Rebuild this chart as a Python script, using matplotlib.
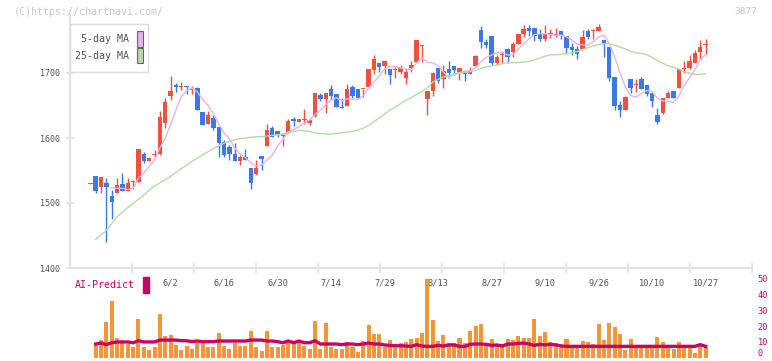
import numpy as np
import pandas as pd
import matplotlib
matplotlib.use("Agg")
import matplotlib.pyplot as plt
from matplotlib.patches import Rectangle

# candles (first one is the lone doji with no AI bar)
opens = [1529.5,
         1541, 1525, 1531, 1511, 1516, 1529, 1519, 1533, 1533, 1575,
         1565, 1574, 1576, 1623, 1665, 1682, 1679, 1680, 1674, 1677,
         1640, 1622, 1631, 1617, 1594, 1586, 1576, 1564, 1570, 1554,
         1545, 1572, 1588, 1615, 1611, 1603, 1608, 1629, 1625, 1628,
         1623, 1634, 1666, 1660, 1675, 1668, 1647, 1650, 1679, 1675,
         1675, 1679, 1705, 1716, 1711, 1706, 1705, 1701, 1693, 1707,
         1717, 1741, 1660, 1672, 1708, 1691, 1706, 1711, 1702, 1703,
         1699, 1711, 1766, 1748, 1757, 1716, 1727, 1737, 1733, 1745,
         1760, 1770, 1770, 1760, 1752, 1760.5, 1759, 1765, 1757, 1740,
         1737, 1737, 1765, 1765, 1765, 1751, 1740, 1694, 1651, 1643,
         1691, 1681, 1691, 1681, 1669, 1635, 1639, 1662, 1673, 1677,
         1706, 1708, 1716, 1733, 1743]
highs = [1531,
         1541, 1540, 1539, 1520, 1538, 1546, 1539, 1536, 1583, 1578,
         1571, 1582, 1641, 1661, 1695, 1685, 1686, 1680, 1680, 1679,
         1640, 1642, 1635, 1617, 1597, 1589, 1592, 1574, 1583, 1554,
         1566, 1572, 1621, 1618, 1611, 1608, 1629, 1632, 1629, 1644,
         1629, 1669, 1669, 1670, 1681, 1668, 1661, 1683, 1681, 1675,
         1676, 1706, 1728, 1716, 1718, 1706, 1710, 1712, 1706, 1718,
         1751, 1743, 1673, 1702, 1708, 1713, 1718, 1711, 1708, 1703,
         1710, 1728, 1773, 1752, 1757, 1728, 1732, 1738, 1748, 1760,
         1774, 1774, 1770, 1768, 1774, 1768, 1769, 1765, 1757, 1746,
         1742, 1766, 1767, 1767, 1775, 1751, 1740, 1694, 1657, 1665,
         1691, 1691, 1694, 1681, 1669, 1646, 1662, 1672, 1673, 1706,
         1718, 1727, 1735, 1751, 1752]
lows = [1529,
        1516, 1515, 1440, 1476, 1515, 1519, 1519, 1521, 1533, 1562,
        1564, 1569, 1574, 1615, 1658, 1671, 1674, 1667, 1667, 1643,
        1620, 1622, 1612, 1571, 1571, 1566, 1564, 1558, 1566, 1522,
        1543, 1551, 1588, 1602, 1602, 1587, 1608, 1618, 1624, 1621,
        1620, 1633, 1657, 1639, 1658, 1647, 1646, 1650, 1662, 1662,
        1663, 1679, 1698, 1701, 1699, 1683, 1692, 1699, 1683, 1701,
        1717, 1717, 1635, 1664, 1684, 1677, 1692, 1697, 1689, 1688,
        1699, 1711, 1739, 1738, 1713, 1713, 1715, 1716, 1725, 1745,
        1756, 1757, 1750, 1750, 1750, 1754, 1755, 1752, 1729, 1727,
        1721, 1737, 1752, 1752, 1765, 1724, 1688, 1643, 1633, 1643,
        1670, 1671, 1675, 1665, 1647, 1621, 1637, 1661, 1661, 1677,
        1700, 1706, 1716, 1722, 1730]
closes = [1530.5,
          1519, 1540, 1525, 1502, 1527, 1519, 1530, 1534, 1583, 1565,
          1569, 1576, 1632, 1655, 1672, 1678, 1680, 1679, 1675, 1643,
          1620, 1635, 1616, 1593, 1574, 1575, 1564, 1571, 1566, 1531,
          1554, 1568, 1612, 1602, 1604, 1604, 1626, 1626, 1629, 1629,
          1628, 1669, 1660, 1670, 1664, 1647, 1646, 1675, 1665, 1662,
          1676, 1706, 1721, 1709, 1718, 1697, 1706, 1708, 1702, 1712,
          1751, 1743, 1673, 1700, 1688, 1703, 1700, 1704, 1708, 1699,
          1705, 1726, 1747, 1743, 1716, 1725, 1730, 1724, 1745, 1760,
          1768, 1765, 1757, 1752, 1760, 1761, 1760, 1758, 1739, 1736,
          1729, 1755, 1755, 1766, 1771, 1744, 1693, 1650, 1643, 1663,
          1677, 1682, 1675, 1668, 1657, 1624, 1662, 1669, 1662, 1706,
          1707, 1718, 1731, 1740, 1744]

# 25-day MA as drawn (starts with the second candle)
ma25 = [np.nan,
        1444, 1451, 1458, 1468, 1479, 1486, 1493, 1499, 1506, 1512,
        1520, 1526, 1531, 1536, 1541, 1547, 1553, 1558, 1564, 1569,
        1574, 1579, 1584, 1588, 1592, 1595, 1597, 1599, 1600, 1601,
        1602, 1602, 1603, 1604, 1605, 1606, 1608, 1610, 1612, 1611,
        1610, 1608, 1607, 1606, 1606, 1607, 1608, 1609, 1610, 1612,
        1615, 1619, 1625, 1631, 1637, 1643, 1647, 1653, 1658, 1662,
        1667, 1672, 1677, 1686, 1690, 1694, 1696, 1698, 1700, 1701,
        1702, 1704, 1707, 1709, 1711, 1712, 1714, 1716, 1716, 1716,
        1717, 1718, 1720, 1723, 1726, 1728, 1728, 1729, 1730, 1731,
        1733, 1736, 1739, 1742, 1744, 1745, 1745, 1743, 1740, 1737,
        1733, 1731, 1730, 1728, 1724, 1719, 1715, 1711, 1709, 1706,
        1702, 1700, 1698, 1698, 1699]

# AI-Predict panel
volume = [np.nan,
          7.8, 11.2, 22.7, 36, 12.5, 10.4, 8.7, 6.8, 24.6, 6.8,
          4.9, 6.8, 27.8, 13.8, 14.4, 7.8, 4.9, 7.4, 5.7, 9.5,
          9.5, 6.8, 6.8, 15.7, 7.4, 5.3, 9.5, 7.4, 7.4, 17,
          6.8, 4.4, 17, 6.8, 6.8, 7.8, 9.5, 10.8, 10.8, 7.4,
          5.7, 23.3, 5.7, 22, 6.8, 5.7, 5.7, 10, 6.8, 3.6,
          10.6, 20.8, 15.3, 15.3, 7, 11.2, 8.7, 9.5, 10.2, 11.9,
          12.5, 15.9, 50, 23.9, 10.6, 14.4, 9.3, 9.3, 12.5, 9.3,
          17, 20.1, 21.6, 9.3, 11.9, 8.7, 8.7, 11.9, 11.2, 13.8,
          12.5, 12.5, 24.6, 13.8, 16.3, 10, 9.3, 8.7, 11.9, 7.8,
          7.8, 10.6, 10, 8.7, 21.4, 11.2, 22, 19.5, 15, 4.9,
          11.9, 7.4, 7.4, 7.4, 7.4, 13.1, 10, 7.4, 5.5, 10,
          7.4, 7.4, 3, 7.4, 6.8]
predict = [np.nan,
           8.7, 9.3, 8.3, 9.5, 10, 10, 10, 9.5, 10.8, 10,
           10, 10, 11.2, 11.2, 11.2, 11.2, 10.8, 10.8, 10.2, 10.6,
           10.2, 10.2, 10.2, 10.6, 10.6, 10.6, 10.6, 10.6, 10.6, 11.2,
           11.2, 11.2, 10.6, 10.6, 10.2, 9.5, 10.6, 9.5, 10.6, 9.5,
           9.5, 10.8, 8.7, 8.7, 8.7, 8.7, 8.3, 8.7, 8.7, 8.3,
           8.7, 9.3, 8.7, 8.7, 8.1, 7.8, 7.6, 7.6, 7.4, 7.2,
           8.3, 7.4, 7.2, 7.2, 7.8, 7.4, 8.1, 8.1, 7.2, 7.2,
           8.5, 8.7, 8.7, 8.5, 7.8, 8.1, 7.4, 8.7, 8.7, 9.1,
           9.3, 8.7, 7.8, 8.5, 8.1, 8.5, 8.1, 7.4, 7.2, 7.2,
           7.2, 7.2, 7.2, 7.2, 7.2, 7.2, 7.2, 7.2, 7.2, 7.2,
           7.2, 7.2, 7.2, 7.2, 7.2, 7.2, 7.2, 7.2, 7.2, 7.2,
           7.2, 7.2, 7.2, 8.3, 7.2]

date_labels = ["6/2", "6/16", "6/30", "7/14", "7/29", "8/13",
               "8/27", "9/10", "9/26", "10/10", "10/27"]
label_idx = [15, 25, 35, 45, 55, 65, 75, 85, 95, 105, 115]

RED = "#f0503c"
BLUE = "#3c78e6"
ORANGE = "#f2963c"
CRIMSON = "#cc0060"
GRAY = "#555555"
LINE = "#e2e2e2"
FONT = "DejaVu Sans Mono"

W, H = 772, 361
fig = plt.figure(figsize=(W / 100, H / 100), dpi=100)


def fx(px):
    return px / W


def fy(py):
    return 1 - py / H


x = np.arange(len(closes))
xlim = (-3.8, 123.67)

# main price axes
ax = fig.add_axes([fx(70), fy(268), fx(682), (268 - 14.5) / H])
ax.set_xlim(*xlim)
ax.set_ylim(1400, 1790)

o = np.array(opens)
c = np.array(closes)
cols = [RED if cc >= oo else BLUE for oo, cc in zip(o, c)]
ax.vlines(x, lows, highs, colors=cols, lw=1.0, zorder=2)
body = np.maximum(np.abs(c - o), 1.6)
ax.bar(x, body, bottom=np.minimum(o, c), width=0.82, color=cols, zorder=3)

ma5 = pd.Series(closes).rolling(5).mean()
ax.plot(x, ma5, color="#e8b2ea", lw=1.0, zorder=4)
ax.plot(x, ma25, color="#b4dca4", lw=1.0, zorder=4)

for s in ["top", "right"]:
    ax.spines[s].set_visible(False)
for s in ["left", "bottom"]:
    ax.spines[s].set_color(LINE)
    ax.spines[s].set_linewidth(1.5)
ax.set_yticks([1400, 1500, 1600, 1700])
ax.tick_params(axis="y", direction="inout", length=6, color=LINE, width=1.2,
               labelsize=6, labelcolor=GRAY, pad=4)
for t in ax.get_yticklabels():
    t.set_family(FONT)
xt = np.arange(xlim[0], xlim[1] + 0.1, 62 / 5.35)
ax.set_xticks(xt[1:])
ax.set_xticklabels([])
ax.tick_params(axis="x", direction="inout", length=7, color=LINE, width=1.2)

for k, lab in zip(label_idx, date_labels):
    ax.text(k, -0.059, lab, transform=ax.get_xaxis_transform(), ha="center",
            va="center", fontsize=6.2, color=GRAY, family=FONT)

# AI-Predict panel
axv = fig.add_axes([fx(70), fy(357.7), fx(682), 78.7 / H])
axv.patch.set_alpha(0)
axv.set_xlim(*xlim)
axv.set_ylim(0, 50)
axv.bar(x, volume, width=0.75, color=ORANGE, zorder=2)
axv.plot(x, predict, color=CRIMSON, lw=2.4, zorder=3)
for s in axv.spines.values():
    s.set_visible(False)
axv.set_xticks([])
axv.yaxis.tick_right()
axv.set_yticks([0, 10, 20, 30, 40, 50])
axv.tick_params(axis="y", length=0, labelsize=6.2, labelcolor=CRIMSON, pad=4)
for t in axv.get_yticklabels():
    t.set_family(FONT)
# keep the "0" inside the picture
axv.get_yticklabels()[0].set_va("bottom")

fig.text(fx(75), fy(285), "AI-Predict", color=CRIMSON, fontsize=7.2,
         family=FONT, va="center", ha="left")
fig.patches.append(Rectangle((fx(143), fy(293)), fx(6), 16 / H,
                             transform=fig.transFigure, color=CRIMSON))

# legend box
fig.patches.append(Rectangle((fx(70), fy(72)), fx(78), 48 / H,
                             transform=fig.transFigure, facecolor="white",
                             edgecolor="#dddddd", lw=1, zorder=5))
fig.text(fx(129), fy(39), "5-day MA", ha="right", va="center", fontsize=7.2,
         color=GRAY, family=FONT, zorder=6)
fig.text(fx(129), fy(56), "25-day MA", ha="right", va="center", fontsize=7.2,
         color=GRAY, family=FONT, zorder=6)
fig.patches.append(Rectangle((fx(136.5), fy(46.5)), fx(6), 15 / H,
                             transform=fig.transFigure, facecolor="#e8b2ea",
                             edgecolor="#666666", lw=0.8, zorder=6))
fig.patches.append(Rectangle((fx(136.5), fy(63)), fx(6), 15 / H,
                             transform=fig.transFigure, facecolor="#b4dca4",
                             edgecolor="#666666", lw=0.8, zorder=6))

# watermark + code
fig.text(fx(14), fy(12), "(C)https://chartnavi.com/", fontsize=7.2,
         color="#c8c8c8", family=FONT, va="center", ha="left")
fig.text(fx(757), fy(12), "3877", fontsize=6.8, color="#c8c8c8",
         family=FONT, va="center", ha="right")

fig.savefig("out.png", dpi=100)
